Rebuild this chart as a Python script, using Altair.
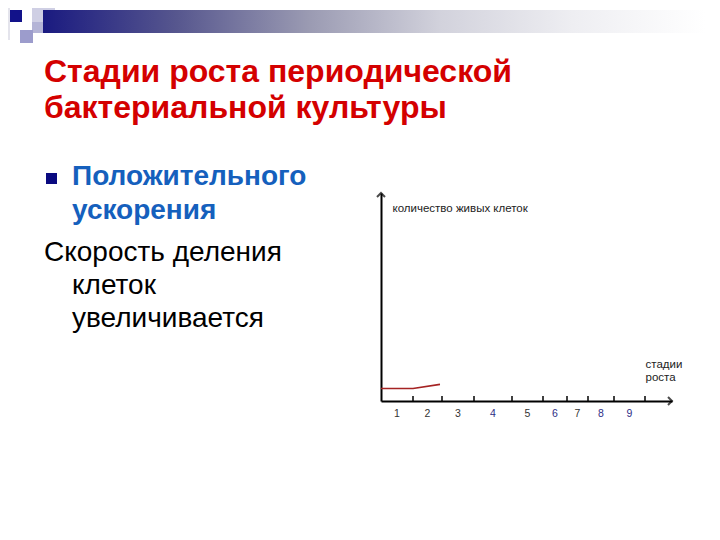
import altair as alt
import pandas as pd

# ---- data ----
stage_numbers = [1, 2, 3, 4, 5, 6, 7, 8, 9]
stage_boundaries = [0.0, 3.2, 6.1, 9.3, 13.1, 16.2, 18.6, 20.7, 23.3, 26.4]
curve_time = [0.0, 3.2, 5.9]
curve_cells = [6.0, 6.0, 8.0]
x_max = 29.1
y_max = 100.0

title_lines = ["Стадии роста периодической", "бактериальной культуры"]
bullet_lines = ["Положительного", "ускорения"]
body_first = "Скорость деления"
body_rest = ["клеток", "увеличивается"]
y_title = "количество живых клеток"
x_title = ["стадии", "роста"]

mids = [(stage_boundaries[i] + stage_boundaries[i + 1]) / 2 for i in range(len(stage_numbers))]
labels_df = pd.DataFrame({"stage": stage_numbers, "mid": mids})
ticks_df = pd.DataFrame({"b": stage_boundaries[1:]})
curve_df = pd.DataFrame({"t": curve_time, "n": curve_cells})
one = pd.DataFrame({"k": [0]})

FONT = "Liberation Sans"
xs = alt.Scale(domain=[0, x_max], nice=False, zero=False)
ys = alt.Scale(domain=[0, y_max], nice=False, zero=False)

# axes carrier + red curve
curve = alt.Chart(curve_df).mark_line(color="#a52323", strokeWidth=1.6).encode(
    x=alt.X("t:Q", scale=xs, axis=alt.Axis(
        title=x_title, labels=False, ticks=False, grid=False,
        domainColor="black", domainWidth=2,
        titleX=264, titleY=-43, titleAlign="left", titleBaseline="top",
        titleFont=FONT, titleFontSize=11.5, titleFontWeight="normal",
        titleColor="#222222", titleLineHeight=13)),
    y=alt.Y("n:Q", scale=ys, axis=alt.Axis(
        title=y_title, labels=False, ticks=False, grid=False,
        domainColor="black", domainWidth=2,
        titleX=11, titleY=15, titleAngle=0, titleAlign="left", titleBaseline="middle",
        titleFont=FONT, titleFontSize=11.5, titleFontWeight="normal",
        titleColor="#222222")),
)

ticks = alt.Chart(ticks_df).mark_rule(color="black", strokeWidth=1.5).encode(
    x=alt.X("b:Q", scale=xs), y=alt.value(203), y2=alt.value(209)
)

stage_labels = alt.Chart(labels_df).mark_text(
    font=FONT, fontSize=10.5, baseline="middle", align="center"
).encode(
    x=alt.X("mid:Q", scale=xs),
    y=alt.value(221),
    text="stage:N",
    color=alt.condition("indexof([4,6,8,9], datum.stage) >= 0",
                        alt.value("#2e2e86"), alt.value("#333333")),
)

arrow_x = alt.Chart(pd.DataFrame({"x": [x_max], "y": [0.0]})).mark_point(
    shape="M-1,-1L0,0L-1,1", size=64, filled=False, color="black", strokeWidth=2
).encode(x=alt.X("x:Q", scale=xs), y=alt.Y("y:Q", scale=ys))

arrow_y = alt.Chart(pd.DataFrame({"x": [0.0], "y": [y_max]})).mark_point(
    shape="M-1,1L0,0L1,1", size=64, filled=False, color="black", strokeWidth=2
).encode(x=alt.X("x:Q", scale=xs), y=alt.Y("y:Q", scale=ys))

# ---- slide decoration (page coords minus plot origin 381,193) ----
def rect(x1, y1, x2, y2, color):
    return alt.Chart(one).mark_rect(color=color).encode(
        x=alt.value(x1 - 381), x2=alt.value(x2 - 381),
        y=alt.value(y1 - 193), y2=alt.value(y2 - 193))

bar = alt.Chart(one).mark_rect(
    color=alt.Gradient(gradient="linear", x1=0, x2=1, y1=0, y2=0, stops=[
        alt.GradientStop(offset=0.0, color="#1a1a80"),
        alt.GradientStop(offset=0.2, color="#56568e"),
        alt.GradientStop(offset=0.4, color="#9a9ab2"),
        alt.GradientStop(offset=0.6, color="#d2d2dc"),
        alt.GradientStop(offset=0.8, color="#eeeef2"),
        alt.GradientStop(offset=1.0, color="#ffffff"),
    ])
).encode(x=alt.value(43 - 381), x2=alt.value(705 - 381),
         y=alt.value(10 - 193), y2=alt.value(33 - 193))

deco = [
    rect(8, 8, 10, 40, "#e4e4ec"),
    rect(32, 8, 55, 22, "#cfcfe4"),
    rect(32, 22, 43, 33, "#b4b4d6"),
    rect(10, 10, 22, 22, "#12128a"),
    rect(20, 30, 33, 43, "#9c9ccc"),
    bar,
    rect(46, 173, 57, 184, "#0a0a80"),
]

def text(lines, x, y, size, color, weight="normal", lh=33):
    return alt.Chart(one).mark_text(
        font=FONT, fontSize=size, fontWeight=weight, color=color,
        align="left", baseline="alphabetic", lineHeight=lh
    ).encode(x=alt.value(x - 381), y=alt.value(y - 193), text=alt.value(lines))

texts = [
    text(title_lines, 44, 82, 32, "#d40000", "bold", 36),
    text(bullet_lines, 72, 185, 28, "#1560bd", "bold", 34),
    text(body_first, 44, 261, 28, "#000000"),
    text(body_rest, 72, 294, 28, "#000000"),
]

chart = alt.layer(
    *deco, *texts, curve, ticks, stage_labels, arrow_x, arrow_y
).properties(
    width=291, height=208,
    padding={"left": 373, "top": 185, "right": 36, "bottom": 125},
    autosize=alt.AutoSizeParams(type="none"),
    background="white",
).configure_view(stroke=None)

chart.save("out.html", embed_options={"renderer": "svg", "actions": False})
